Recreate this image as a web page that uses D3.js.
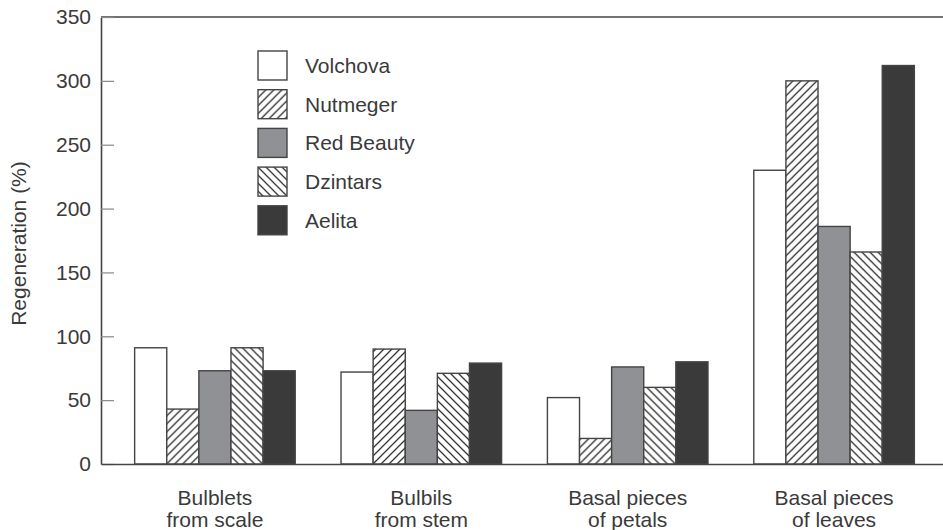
<!DOCTYPE html>
<html>
<head>
<meta charset="utf-8">
<script src="https://cdn.jsdelivr.net/npm/d3@7"></script>
<style>
  body { margin: 0; background: #fff; }
  text { font-family: "Liberation Sans", Arial, sans-serif; fill: #3a3a3a; }
</style>
</head>
<body>
<div id="chart"></div>
<script>
// data
var categories = ['Bulblets|from scale', 'Bulbils|from stem', 'Basal pieces|of petals', 'Basal pieces|of leaves'];
var cultivars = ['Volchova', 'Nutmeger', 'Red Beauty', 'Dzintars', 'Aelita'];
var volchova  = [91, 72, 52, 230];
var nutmeger  = [43, 90, 20, 300];
var redBeauty = [73, 42, 76, 186];
var dzintars  = [91, 71, 60, 166];
var aelita    = [73, 79, 80, 312];
var yTicks = [0, 50, 100, 150, 200, 250, 300, 350];

var seriesValues = [volchova, nutmeger, redBeauty, dzintars, aelita];
var fills = ['#ffffff', 'url(#hatchUp)', '#909195', 'url(#hatchDown)', '#3a3a3a'];

var width = 943;
var height = 530;
var plotLeft = 101, plotRight = 948, plotTop = 17, plotBottom = 464;
var fontSize = 21;

var svg = d3.select('#chart')
  .append('svg')
  .attr('width', width)
  .attr('height', height);

var defs = svg.append('defs');
function hatch(id, d) {
  var p = defs.append('pattern')
    .attr('id', id)
    .attr('patternUnits', 'userSpaceOnUse')
    .attr('width', 8)
    .attr('height', 8);
  p.append('rect').attr('width', 8).attr('height', 8).attr('fill', '#fff');
  p.append('path')
    .attr('d', d)
    .attr('stroke', '#333')
    .attr('stroke-width', 1.3);
}
hatch('hatchUp', 'M-2,2 L2,-2 M0,8 L8,0 M6,10 L10,6');
hatch('hatchDown', 'M-2,6 L2,10 M0,0 L8,8 M6,-2 L10,2');

var x = d3.scaleBand()
  .domain(categories)
  .range([plotLeft, plotRight])
  .paddingInner(0.222)
  .paddingOuter(0.163);

var xs = d3.scaleBand()
  .domain(cultivars)
  .range([0, x.bandwidth()]);

var y = d3.scaleLinear()
  .domain([0, 350])
  .range([plotBottom, plotTop]);

// top frame line
svg.append('line')
  .attr('x1', plotLeft).attr('x2', width)
  .attr('y1', y(350)).attr('y2', y(350))
  .attr('stroke', '#444')
  .attr('stroke-width', 1.6);

// bars
var groups = svg.selectAll('.group')
  .data(categories)
  .enter()
  .append('g')
  .attr('class', 'group')
  .attr('transform', function (d) { return 'translate(' + x(d) + ',0)'; });

groups.selectAll('rect')
  .data(function (d, i) {
    return cultivars.map(function (c, j) {
      return { name: c, value: seriesValues[j][i], fill: fills[j] };
    });
  })
  .enter()
  .append('rect')
  .attr('x', function (d) { return xs(d.name); })
  .attr('y', function (d) { return y(d.value); })
  .attr('width', xs.bandwidth())
  .attr('height', function (d) { return y(0) - y(d.value); })
  .attr('fill', function (d) { return d.fill; })
  .attr('stroke', '#444')
  .attr('stroke-width', 1.4);

// y axis
var yAxis = svg.append('g')
  .attr('transform', 'translate(' + plotLeft + ',0)')
  .call(d3.axisLeft(y).tickValues(yTicks).tickSizeInner(-13).tickSizeOuter(0).tickPadding(10));
yAxis.select('.domain').attr('stroke', '#444').attr('stroke-width', 1.6);
yAxis.selectAll('.tick line').attr('stroke', '#888').attr('stroke-width', 1.2);
yAxis.selectAll('.tick text')
  .attr('font-size', fontSize)
  .style('font-family', '"Liberation Sans", Arial, sans-serif')
  .attr('fill', '#3a3a3a');

// x axis
var xAxis = svg.append('g')
  .attr('transform', 'translate(0,' + plotBottom + ')')
  .call(d3.axisBottom(x).tickSize(0).tickFormat(''));
xAxis.select('.domain').attr('stroke', '#444').attr('stroke-width', 1.6);

var xLabels = svg.selectAll('.xlabel')
  .data(categories)
  .enter()
  .append('text')
  .attr('class', 'xlabel')
  .attr('text-anchor', 'middle')
  .attr('font-size', fontSize)
  .attr('x', function (d) { return x(d) + x.bandwidth() / 2; })
  .attr('y', 505);
xLabels.selectAll('tspan')
  .data(function (d) { return d.split('|'); })
  .enter()
  .append('tspan')
  .attr('x', function () { return d3.select(this.parentNode).attr('x'); })
  .attr('dy', function (d, i) { return i === 0 ? 0 : 22; })
  .text(function (d) { return d; });

// y title
svg.append('text')
  .attr('transform', 'translate(26,' + ((plotTop + plotBottom) / 2 + 3) + ') rotate(-90)')
  .attr('text-anchor', 'middle')
  .attr('font-size', fontSize)
  .text('Regeneration (%)');

// legend
var legend = svg.selectAll('.legend')
  .data(cultivars)
  .enter()
  .append('g')
  .attr('class', 'legend')
  .attr('transform', function (d, i) { return 'translate(258,' + (51 + i * 38.7) + ')'; });

legend.append('rect')
  .attr('width', 29)
  .attr('height', 29)
  .attr('fill', function (d, i) { return fills[i]; })
  .attr('stroke', '#444')
  .attr('stroke-width', 1.4);

legend.append('text')
  .attr('x', 47)
  .attr('y', 22)
  .attr('font-size', fontSize)
  .text(function (d) { return d; });
</script>
</body>
</html>
